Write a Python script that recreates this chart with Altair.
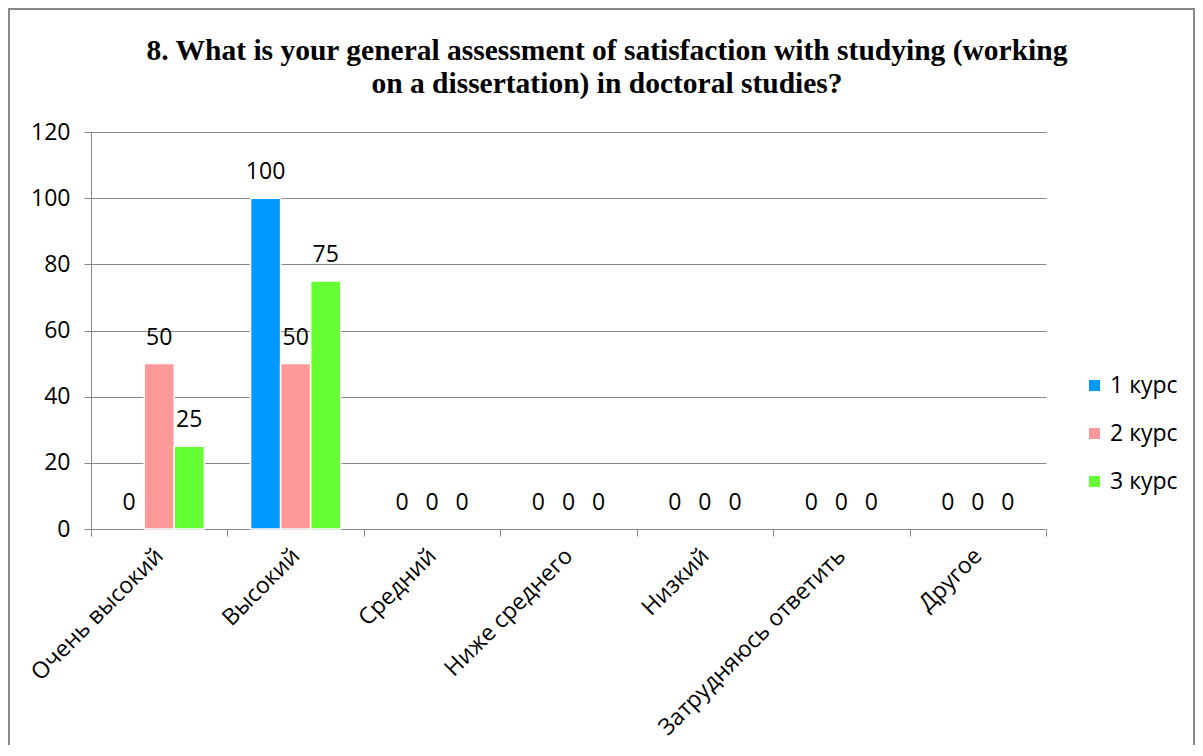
import altair as alt
import pandas as pd

categories = ["Очень высокий", "Высокий", "Средний", "Ниже среднего", "Низкий", "Затрудняюсь ответить", "Другое"]
series_names = ["1 курс", "2 курс", "3 курс"]
course1 = [0, 100, 0, 0, 0, 0, 0]
course2 = [50, 50, 0, 0, 0, 0, 0]
course3 = [25, 75, 0, 0, 0, 0, 0]
colors = ["#0099FF", "#FF9999", "#66FF33"]
y_ticks = [0, 20, 40, 60, 80, 100, 120]
title_line1 = "8. What is your general assessment of satisfaction with studying (working"
title_line2 = "on a dissertation) in doctoral studies?"

rows = []
for name, vals in zip(series_names, [course1, course2, course3]):
    for c, v in zip(categories, vals):
        rows.append({"cat": c, "series": name, "value": v})
df = pd.DataFrame(rows)

W, H = 955, 397
PL, PT, PR, PB = 83, 124, 149, 216
FONT = "Open Sans"
FS = 23

x_enc = alt.X("cat:N", sort=categories, title=None,
              scale=alt.Scale(paddingInner=0, paddingOuter=0),
              axis=alt.Axis(tickBand="extent", tickSize=7, tickColor="#888888", domainColor="#888888",
                            labelAngle=-45, labelAlign="right", labelBaseline="middle",
                            labelFont=FONT, labelFontSize=FS, labelColor="black", labelPadding=16,
                            grid=False, labelLimit=400))
xo_enc = alt.XOffset("series:N", sort=series_names, scale=alt.Scale(paddingInner=0, paddingOuter=0.77))
y_enc = alt.Y("value:Q", title=None, scale=alt.Scale(domain=[0, 120], nice=False),
              axis=alt.Axis(values=y_ticks, grid=True, gridColor="#888888", gridWidth=1,
                            tickSize=7, tickColor="#888888", domain=True, domainColor="#888888",
                            labelFont=FONT, labelFontSize=FS, labelColor="black", labelPadding=14))

base = alt.Chart(df)

bars = base.mark_bar(stroke="white", strokeWidth=1.5).encode(
    x=x_enc, xOffset=xo_enc, y=y_enc,
    strokeOpacity=alt.condition("datum.value > 0", alt.value(1), alt.value(0)),
    color=alt.Color("series:N", sort=series_names,
                    scale=alt.Scale(domain=series_names, range=colors),
                    legend=alt.Legend(title=None, orient="none", legendX=992, legendY=242,
                                      symbolType="square", symbolSize=121, symbolStrokeWidth=0,
                                      labelFont=FONT, labelFontSize=FS, labelColor="black",
                                      rowPadding=24, labelOffset=4))
)

labels = base.mark_text(font=FONT, fontSize=FS, color="black", baseline="alphabetic", dy=-19).encode(
    x=alt.X("cat:N", sort=categories), xOffset=xo_enc, y=alt.Y("value:Q"),
    text=alt.Text("value:Q")
)

def title_layer(line, ypos):
    return alt.Chart(pd.DataFrame({"line": [line]})).mark_text(
        font="Liberation Serif", fontSize=29.5, fontWeight="bold",
        color="black", align="center", baseline="alphabetic").encode(
        x=alt.value(516), y=alt.value(ypos), text="line:N")

title1 = title_layer(title_line1, -72)
title2 = title_layer(title_line2, -39)

border = alt.Chart(pd.DataFrame({"a": [0]})).mark_rect(fill=None, stroke="#888888", strokeWidth=2).encode(
    x=alt.value(-PL + 1), x2=alt.value(W + PR - 1), y=alt.value(-PT + 1), y2=alt.value(H + PB + 50)
)

chart = alt.layer(border, bars, labels, title1, title2).properties(
    width=W, height=H,
    autosize=alt.AutoSizeParams(type="none"),
    padding={"left": PL, "top": PT, "right": PR, "bottom": PB}
).configure(background="white", view=alt.ViewConfig(stroke=None))

chart.save("out.html", embed_options={"renderer": "svg", "actions": False})
